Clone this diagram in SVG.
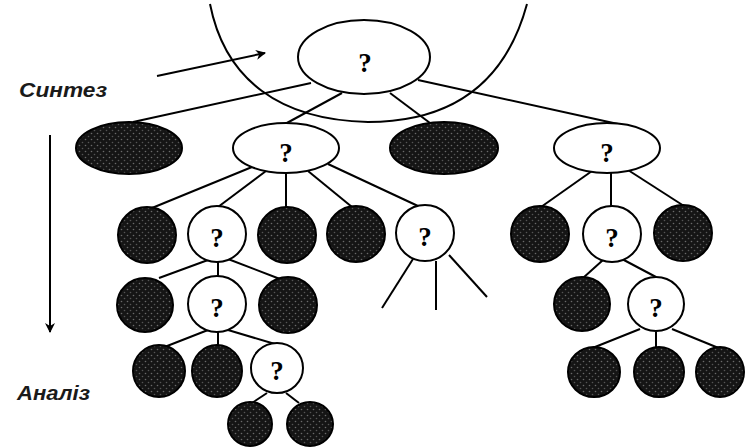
<svg xmlns="http://www.w3.org/2000/svg" width="745" height="448" viewBox="0 0 745 448">
<defs>
<pattern id="dots" width="6" height="6" patternUnits="userSpaceOnUse">
<rect width="6" height="6" fill="#151515"/>
<circle cx="1.5" cy="1.5" r="0.8" fill="#6a6a6a"/>
<circle cx="4.5" cy="4.5" r="0.8" fill="#555"/>
</pattern>
<marker id="ah2" viewBox="0 0 10 10" refX="9" refY="5" markerWidth="12" markerHeight="10" orient="auto" markerUnits="userSpaceOnUse">
<path d="M0,0 L10,5 L0,10 L3,5 z" fill="#000"/>
</marker>
</defs>
<style>
.f{fill:url(#dots);stroke:#000;stroke-width:2}
.o{fill:#fff;stroke:#000;stroke-width:2}
.q{font-family:"Liberation Serif",serif;font-weight:bold;font-size:27px;text-anchor:middle;fill:#000}
.lbl{font-family:"Liberation Sans",Arial,sans-serif;font-style:italic;font-weight:bold;font-size:20px;fill:#1a1a1a}
.c line,.c path{stroke:#000;stroke-width:2;fill:none}
</style>
<rect width="745" height="448" fill="#fff"/>
<g class="c" id="connectors">
<path d="M210,4 C225,80 280,120 368,122 C450,122 505,85 527,4" stroke-width="1.5"/>
<line x1="157" y1="76" x2="265" y2="53" stroke-width="3" marker-end="url(#ah2)"/>
<line x1="50" y1="135" x2="50" y2="332" stroke-width="3" marker-end="url(#ah2)"/>
<line x1="311" y1="83" x2="133" y2="122"/>
<line x1="342" y1="93" x2="285" y2="124"/>
<line x1="390" y1="93" x2="430" y2="123"/>
<line x1="418" y1="80" x2="618" y2="124"/>
<line x1="252" y1="167" x2="152" y2="208"/>
<line x1="266" y1="171" x2="218" y2="207"/>
<line x1="286" y1="173" x2="286" y2="207"/>
<line x1="308" y1="171" x2="352" y2="207"/>
<line x1="328" y1="164" x2="418" y2="206"/>
<line x1="592" y1="171" x2="541" y2="207"/>
<line x1="611" y1="173" x2="611" y2="207"/>
<line x1="628" y1="170" x2="684" y2="206"/>
<line x1="413" y1="259" x2="382" y2="308"/>
<line x1="436" y1="261" x2="436" y2="310"/>
<line x1="449" y1="255" x2="487" y2="297"/>
<line x1="208" y1="260" x2="159" y2="278"/>
<line x1="218" y1="262" x2="218" y2="277"/>
<line x1="228" y1="259" x2="280" y2="279"/>
<line x1="603" y1="260" x2="583" y2="278"/>
<line x1="622" y1="259" x2="656" y2="277"/>
<line x1="208" y1="330" x2="162" y2="348"/>
<line x1="218" y1="332" x2="218" y2="345"/>
<line x1="228" y1="330" x2="275" y2="344"/>
<line x1="267" y1="393" x2="252" y2="403"/>
<line x1="286" y1="393" x2="299" y2="403"/>
<line x1="640" y1="329" x2="590" y2="349"/>
<line x1="656" y1="332" x2="656" y2="347"/>
<line x1="672" y1="329" x2="721" y2="349"/>
</g>
<text class="lbl" x="19" y="97" textLength="88" lengthAdjust="spacingAndGlyphs">Синтез</text>
<text class="lbl" x="17" y="400" textLength="73" lengthAdjust="spacingAndGlyphs">Аналіз</text>
<g id="root"><ellipse class="o" cx="364" cy="57" rx="66" ry="37"/><text class="q" x="365" y="72" font-size="38">?</text></g>
<g id="n2a"><ellipse class="f" cx="129" cy="148" rx="53" ry="26"/></g>
<g id="n2b"><ellipse class="o" cx="286" cy="148" rx="53" ry="25"/><text class="q" x="286" y="162">?</text></g>
<g id="n2c"><ellipse class="f" cx="444" cy="148" rx="54" ry="26"/></g>
<g id="n2d"><ellipse class="o" cx="607" cy="148" rx="53" ry="25"/><text class="q" x="607" y="162">?</text></g>
<g id="n3a"><ellipse class="f" cx="147" cy="235" rx="29" ry="28"/></g>
<g id="n3b"><ellipse class="o" cx="217" cy="234" rx="29" ry="28"/><text class="q" x="217" y="247">?</text></g>
<g id="n3c"><ellipse class="f" cx="287" cy="235" rx="29" ry="28"/></g>
<g id="n3d"><ellipse class="f" cx="356" cy="234" rx="29" ry="28"/></g>
<g id="n3e"><ellipse class="o" cx="425" cy="233" rx="29" ry="28"/><text class="q" x="425" y="246">?</text></g>
<g id="n3f"><ellipse class="f" cx="540" cy="234" rx="29" ry="28"/></g>
<g id="n3g"><ellipse class="o" cx="612" cy="234" rx="29" ry="28"/><text class="q" x="612" y="247">?</text></g>
<g id="n3h"><ellipse class="f" cx="683" cy="233" rx="29" ry="28"/></g>
<g id="n4a"><ellipse class="f" cx="145" cy="305" rx="28" ry="27"/></g>
<g id="n4b"><ellipse class="o" cx="217" cy="304" rx="29" ry="28"/><text class="q" x="217" y="317">?</text></g>
<g id="n4c"><ellipse class="f" cx="288" cy="305" rx="29" ry="28"/></g>
<g id="n4d"><ellipse class="f" cx="582" cy="304" rx="28" ry="27"/></g>
<g id="n4e"><ellipse class="o" cx="656" cy="304" rx="28" ry="27"/><text class="q" x="656" y="317">?</text></g>
<g id="n5a"><ellipse class="f" cx="159" cy="371" rx="26" ry="26"/></g>
<g id="n5b"><ellipse class="f" cx="217" cy="371" rx="25" ry="26"/></g>
<g id="n5c"><ellipse class="o" cx="277" cy="368" rx="26" ry="25"/><text class="q" x="277" y="380" font-size="25">?</text></g>
<g id="n5d"><ellipse class="f" cx="594" cy="372" rx="26" ry="25"/></g>
<g id="n5e"><ellipse class="f" cx="659" cy="372" rx="25" ry="25"/></g>
<g id="n5f"><ellipse class="f" cx="720" cy="372" rx="24" ry="25"/></g>
<g id="n6a"><ellipse class="f" cx="250" cy="424" rx="22" ry="22"/></g>
<g id="n6b"><ellipse class="f" cx="310" cy="424" rx="23" ry="22"/></g>
</svg>
